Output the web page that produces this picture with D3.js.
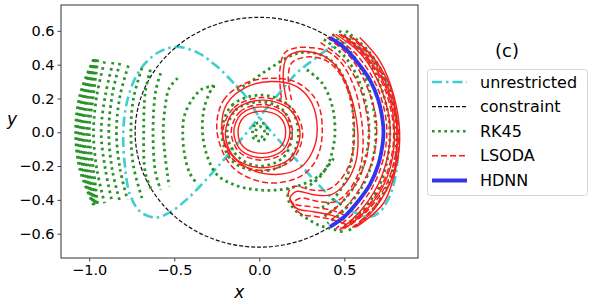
<!DOCTYPE html>
<html>
<head>
<meta charset="utf-8">
<script src="https://cdn.jsdelivr.net/npm/d3@7"></script>
<style>
  body { margin: 0; background: #fff; }
  svg { display: block; font-family: "DejaVu Sans", sans-serif; }
</style>
</head>
<body>
<div id="chart"></div>
<script>
// ticks
const xTicks = [-1.0, -0.5, 0.0, 0.5];
const yTicks = [-0.6, -0.4, -0.2, 0.0, 0.2, 0.4, 0.6];

// legend labels
const legendLabels = ['unrestricted', 'constraint', 'RK45', 'LSODA', 'HDNN'];

// constraint ellipse semi-axes [rx, ry]
const constraintAxes = [0.73, 0.68];

// unrestricted trajectory (closed figure-eight)
const unrestricted = [
  [-0.07, 0.2], [-0.15, 0.29], [-0.25, 0.39], [-0.36, 0.47], [-0.48, 0.505], [-0.58, 0.48],
  [-0.66, 0.42], [-0.73, 0.32], [-0.78, 0.17], [-0.8, 0.0], [-0.79, -0.2], [-0.76, -0.37],
  [-0.7, -0.47], [-0.61, -0.505], [-0.52, -0.47], [-0.43, -0.4], [-0.34, -0.31], [-0.25, -0.21],
  [-0.13, -0.07], [0.0, 0.09], [0.12, 0.235], [0.22, 0.35], [0.32, 0.43], [0.42, 0.5],
  [0.52, 0.53], [0.63, 0.47], [0.73, 0.33], [0.8, 0.13], [0.82, -0.05], [0.8, -0.26],
  [0.77, -0.37], [0.71, -0.47], [0.65, -0.5], [0.55, -0.47], [0.43, -0.39], [0.32, -0.28],
  [0.18, -0.12], [0.1, -0.03], [0.0, 0.09], [-0.07, 0.2]
];

// RK45 trajectory pieces
const rk45 = [
  // dense outer band
  [[-0.975, 0.43], [-1.055, 0.22], [-1.08, 0], [-1.055, -0.22], [-0.975, -0.43]],
  [[-0.97, 0.43], [-1.045, 0.22], [-1.07, 0], [-1.045, -0.22], [-0.97, -0.43]],
  [[-0.97, 0.43], [-1.035, 0.22], [-1.06, 0], [-1.035, -0.22], [-0.97, -0.43]],
  [[-0.965, 0.43], [-1.025, 0.22], [-1.05, 0], [-1.025, -0.22], [-0.965, -0.43]],
  [[-0.965, 0.43], [-1.015, 0.22], [-1.04, 0], [-1.015, -0.22], [-0.965, -0.43]],
  [[-0.96, 0.43], [-1.005, 0.22], [-1.03, 0], [-1.005, -0.22], [-0.96, -0.43]],
  [[-0.955, 0.43], [-0.99, 0.22], [-1.015, 0], [-0.99, -0.22], [-0.955, -0.43]],
  [[-0.95, 0.43], [-0.975, 0.22], [-1.0, 0], [-0.975, -0.22], [-0.95, -0.43]],
  // spreading swings
  [[-0.91, 0.42], [-0.955, 0.22], [-0.975, 0], [-0.955, -0.22], [-0.91, -0.42]],
  [[-0.86, 0.415], [-0.905, 0.22], [-0.93, 0], [-0.905, -0.22], [-0.865, -0.415]],
  [[-0.82, 0.41], [-0.865, 0.22], [-0.885, 0], [-0.865, -0.22], [-0.82, -0.41]],
  [[-0.77, 0.395], [-0.82, 0.21], [-0.84, 0], [-0.82, -0.21], [-0.775, -0.4]],
  [[-0.69, 0.38], [-0.74, 0.2], [-0.755, 0], [-0.74, -0.2], [-0.69, -0.39]],
  [[-0.64, 0.37], [-0.67, 0.24], [-0.68, 0], [-0.67, -0.24], [-0.63, -0.35]],
  [[-0.58, 0.35], [-0.61, 0.24], [-0.625, 0], [-0.61, -0.24], [-0.58, -0.34]],
  [[-0.48, 0.32], [-0.53, 0.26], [-0.555, 0.14], [-0.565, 0], [-0.555, -0.13], [-0.54, -0.25], [-0.53, -0.32]],
  [[-0.26, 0.27], [-0.33, 0.26], [-0.39, 0.2], [-0.44, 0.1], [-0.45, 0], [-0.44, -0.13], [-0.41, -0.24], [-0.37, -0.3]],
  [[-0.27, 0.28], [-0.32, 0.16], [-0.335, 0.02], [-0.31, -0.13], [-0.25, -0.25], [-0.15, -0.31], [-0.02, -0.34],
   [0.12, -0.34], [0.25, -0.31], [0.36, -0.25], [0.44, -0.15]],
  // centre
  [[-0.19, 0], [-0.14, 0.13], [0, 0.18], [0.14, 0.13], [0.19, -0.02], [0.14, -0.15], [0, -0.2], [-0.13, -0.14], [-0.19, 0]],
  [[-0.22, 0], [-0.16, 0.16], [0.01, 0.22], [0.17, 0.16], [0.23, -0.01], [0.17, -0.17], [0.01, -0.23], [-0.16, -0.17], [-0.22, 0]],
  [[-0.04, 0], [-0.02, 0.05], [0.03, 0.05], [0.05, 0], [0.02, -0.05], [-0.03, -0.04], [-0.04, 0]],
  [[-0.02, 0.01], [0, 0.035], [0.03, 0.01], [0.01, -0.03], [-0.02, -0.02], [-0.02, 0.01]],
  // right side
  [[-0.13, 0.25], [-0.05, 0.3], [0.02, 0.35], [0.08, 0.39], [0.16, 0.44], [0.24, 0.47], [0.32, 0.47], [0.4, 0.44],
   [0.47, 0.37], [0.52, 0.26], [0.55, 0.12], [0.555, 0], [0.545, -0.15], [0.5, -0.3], [0.43, -0.4], [0.36, -0.45]],
  [[0.28, 0.37], [0.37, 0.29], [0.43, 0.15], [0.445, 0], [0.43, -0.11], [0.4, -0.2], [0.34, -0.28], [0.27, -0.33]],
  [[0.38, 0.55], [0.5, 0.45], [0.58, 0.32], [0.63, 0.15], [0.645, 0], [0.625, -0.15], [0.57, -0.3], [0.48, -0.42], [0.38, -0.5]],
  [[0.43, 0.58], [0.54, 0.47], [0.62, 0.33], [0.67, 0.15], [0.685, 0], [0.665, -0.17], [0.6, -0.33], [0.5, -0.46], [0.4, -0.54]],
  [[0.47, 0.6], [0.61, 0.47], [0.71, 0.28], [0.765, 0.05], [0.755, -0.15], [0.7, -0.33], [0.59, -0.48], [0.48, -0.57]],
  [[0.51, 0.6], [0.65, 0.47], [0.76, 0.27], [0.805, 0.03], [0.79, -0.2], [0.72, -0.38], [0.61, -0.52], [0.51, -0.59]],
  [[0.17, -0.33], [0.17, -0.4], [0.21, -0.46], [0.28, -0.51], [0.35, -0.55], [0.42, -0.57], [0.49, -0.59]]
];

// LSODA trajectory pieces drawn dashed
const lsodaDashed = [
  [[0.4, 0.56], [0.53, 0.45], [0.62, 0.3], [0.68, 0.12], [0.69, 0], [0.67, -0.15], [0.61, -0.3], [0.52, -0.43], [0.42, -0.52]],
  [[0.36, 0.53], [0.49, 0.43], [0.58, 0.29], [0.63, 0.12], [0.645, 0], [0.63, -0.15], [0.57, -0.3], [0.48, -0.42], [0.38, -0.5]],
  [[0.43, 0.58], [0.58, 0.45], [0.7, 0.25], [0.75, 0], [0.7, -0.25], [0.58, -0.45], [0.45, -0.57]],
  [[0.47, 0.58], [0.62, 0.45], [0.74, 0.25], [0.79, -0.02], [0.74, -0.27], [0.62, -0.46], [0.49, -0.57]],
  [[0.5, 0.57], [0.65, 0.44], [0.76, 0.24], [0.81, -0.02], [0.76, -0.28], [0.64, -0.46], [0.52, -0.56]],
  [[0.53, 0.57], [0.67, 0.43], [0.77, 0.23], [0.82, -0.03], [0.78, -0.27], [0.67, -0.45], [0.54, -0.57]],
  [[0.19, 0.19], [0.17, 0.32], [0.19, 0.41], [0.25, 0.44], [0.32, 0.445], [0.4, 0.42], [0.47, 0.35], [0.53, 0.22],
   [0.555, 0.08], [0.555, -0.08], [0.53, -0.19], [0.47, -0.29], [0.4, -0.34], [0.3, -0.34], [0.21, -0.32],
   [0.17, -0.36], [0.2, -0.42], [0.3, -0.44], [0.42, -0.46], [0.5, -0.49]],
  [[0.13, 0.2], [0.12, 0.36], [0.15, 0.47], [0.22, 0.5], [0.31, 0.5], [0.4, 0.48], [0.49, 0.4], [0.56, 0.26],
   [0.6, 0.08], [0.61, -0.08], [0.59, -0.22], [0.53, -0.34], [0.45, -0.41], [0.35, -0.41], [0.24, -0.39],
   [0.2, -0.42], [0.24, -0.48], [0.34, -0.5], [0.44, -0.52], [0.52, -0.55]],
  [[-0.25, 0.02], [-0.21, 0.19], [-0.08, 0.29], [0.07, 0.32], [0.23, 0.29], [0.34, 0.18], [0.37, 0], [0.34, -0.15],
   [0.26, -0.25], [0.1, -0.3], [-0.06, -0.27], [-0.18, -0.18], [-0.25, 0.02]],
  [[-0.165, 0], [-0.115, 0.12], [0.015, 0.165], [0.145, 0.12], [0.195, 0], [0.145, -0.12], [0.015, -0.165], [-0.115, -0.12], [-0.165, 0]],
  [[-0.215, -0.01], [-0.15, 0.145], [0.02, 0.205], [0.19, 0.145], [0.255, -0.01], [0.19, -0.165], [0.02, -0.225], [-0.15, -0.165], [-0.215, -0.01]]
];

// LSODA trajectory pieces drawn solid
const lsodaSolid = [
  [[0.45, 0.58], [0.6, 0.46], [0.72, 0.25], [0.77, 0], [0.72, -0.26], [0.6, -0.46], [0.47, -0.58]],
  [[0.48, 0.58], [0.63, 0.45], [0.75, 0.25], [0.795, -0.01], [0.75, -0.27], [0.63, -0.46], [0.5, -0.57]],
  [[0.55, 0.56], [0.68, 0.43], [0.78, 0.24], [0.81, -0.02], [0.79, -0.24], [0.68, -0.45], [0.56, -0.56]],
  [[0.59, 0.56], [0.71, 0.42], [0.79, 0.22], [0.825, 0], [0.81, -0.18], [0.73, -0.42], [0.57, -0.56]],
  [[0.16, 0.19], [0.14, 0.33], [0.16, 0.44], [0.22, 0.475], [0.3, 0.475], [0.38, 0.45], [0.46, 0.38], [0.53, 0.24],
   [0.57, 0.08], [0.58, -0.08], [0.56, -0.2], [0.5, -0.31], [0.42, -0.37], [0.32, -0.37], [0.22, -0.35],
   [0.18, -0.39], [0.22, -0.45], [0.32, -0.47], [0.42, -0.49], [0.5, -0.52]],
  [[-0.22, 0.02], [-0.19, 0.17], [-0.07, 0.27], [0.07, 0.3], [0.22, 0.27], [0.31, 0.17], [0.34, 0], [0.31, -0.12],
   [0.24, -0.21], [0.1, -0.25], [-0.07, -0.21], [-0.18, -0.11], [-0.22, 0.02]],
  [[-0.125, 0], [-0.09, 0.09], [0.015, 0.125], [0.12, 0.09], [0.155, 0], [0.12, -0.09], [0.015, -0.125], [-0.09, -0.09], [-0.125, 0]],
  [[-0.15, 0], [-0.105, 0.11], [0.015, 0.15], [0.135, 0.11], [0.18, 0], [0.135, -0.11], [0.015, -0.15], [-0.105, -0.11], [-0.15, 0]],
  [[-0.2, -0.01], [-0.14, 0.135], [0.02, 0.19], [0.18, 0.135], [0.24, -0.01], [0.18, -0.155], [0.02, -0.21], [-0.14, -0.155], [-0.2, -0.01]]
];

// HDNN trajectory, stays on the constraint
const hdnn = [
  [0.415, 0.56], [0.5, 0.5], [0.58, 0.41], [0.65, 0.31], [0.7, 0.19], [0.725, 0.07], [0.73, 0],
  [0.725, -0.07], [0.7, -0.19], [0.65, -0.31], [0.58, -0.41], [0.5, -0.5], [0.415, -0.56]
];

const width = 594;
const height = 308;
const margin = { top: 5, right: 176, bottom: 50, left: 61 };

const svg = d3.select('#chart').append('svg')
  .attr('width', width)
  .attr('height', height);

const x = d3.scaleLinear()
  .domain([-1.166, 0.933])
  .range([margin.left, width - margin.right]);

const y = d3.scaleLinear()
  .domain([-0.744, 0.753])
  .range([height - margin.bottom, margin.top]);

svg.append('clipPath').attr('id', 'plot-clip')
  .append('rect')
  .attr('x', margin.left).attr('y', margin.top)
  .attr('width', x.range()[1] - x.range()[0])
  .attr('height', y.range()[0] - y.range()[1]);

const plot = svg.append('g').attr('clip-path', 'url(#plot-clip)');

const isClosed = p => p.length > 3 && p[0][0] === p[p.length - 1][0] && p[0][1] === p[p.length - 1][1];
const openLine = d3.line().x(d => x(d[0])).y(d => y(d[1])).curve(d3.curveCatmullRom.alpha(0.5));
const closedLine = d3.line().x(d => x(d[0])).y(d => y(d[1])).curve(d3.curveCatmullRomClosed.alpha(0.5));
const pathOf = p => isClosed(p) ? closedLine(p.slice(0, -1)) : openLine(p);

const styles = {
  unrestricted: { stroke: '#3fcfcf', width: 2.6, dash: '10,4,2.5,4' },
  constraint: { stroke: '#111', width: 1.2, dash: '4,2' },
  rk45: { stroke: '#2a922a', width: 2.8, dash: '2.6,3.6' },
  lsodaDash: { stroke: '#ff1a1a', width: 1.5, dash: '6,3' },
  lsodaSolid: { stroke: '#ff1a1a', width: 1.4, dash: null },
  hdnn: { stroke: '#3434ec', width: 3.8, dash: null }
};

const drawPaths = (list, s, cls) => {
  plot.selectAll(`path.${cls}`)
    .data(list)
    .enter()
    .append('path')
    .attr('class', cls)
    .attr('d', pathOf)
    .attr('fill', 'none')
    .attr('stroke', s.stroke)
    .attr('stroke-width', s.width)
    .attr('stroke-dasharray', s.dash);
};

drawPaths([unrestricted], styles.unrestricted, 'unrestricted');

plot.append('ellipse')
  .attr('cx', x(0)).attr('cy', y(0))
  .attr('rx', x(constraintAxes[0]) - x(0))
  .attr('ry', y(0) - y(constraintAxes[1]))
  .attr('fill', 'none')
  .attr('stroke', styles.constraint.stroke)
  .attr('stroke-width', styles.constraint.width)
  .attr('stroke-dasharray', styles.constraint.dash);

drawPaths(rk45, styles.rk45, 'rk45');
drawPaths(lsodaDashed, styles.lsodaDash, 'lsoda-dash');
drawPaths(lsodaSolid, styles.lsodaSolid, 'lsoda-solid');
drawPaths([hdnn], styles.hdnn, 'hdnn');

// frame
svg.append('rect')
  .attr('x', margin.left).attr('y', margin.top)
  .attr('width', x.range()[1] - x.range()[0])
  .attr('height', y.range()[0] - y.range()[1])
  .attr('fill', 'none')
  .attr('stroke', '#444')
  .attr('stroke-width', 1.1);

const fmt = d3.format('.1f');

const axisX = svg.append('g')
  .attr('transform', `translate(0, ${height - margin.bottom})`)
  .call(d3.axisBottom(x).tickValues(xTicks).tickFormat(fmt).tickSize(3.5).tickPadding(3));
const axisY = svg.append('g')
  .attr('transform', `translate(${margin.left}, 0)`)
  .call(d3.axisLeft(y).tickValues(yTicks).tickFormat(fmt).tickSize(3.5).tickPadding(3));

[axisX, axisY].forEach(g => {
  g.select('.domain').remove();
  g.selectAll('.tick line').attr('stroke', '#444').attr('stroke-width', 1);
  g.selectAll('.tick text')
    .attr('fill', '#000')
    .style('font-family', '"DejaVu Sans", sans-serif')
    .style('font-size', '14.5px');
});

svg.append('text')
  .attr('x', x(0) - 20).attr('y', 298)
  .attr('text-anchor', 'middle')
  .style('font-size', '17px')
  .style('font-style', 'italic')
  .text('x');

svg.append('text')
  .attr('x', 12).attr('y', 125)
  .attr('text-anchor', 'middle')
  .style('font-size', '17px')
  .style('font-style', 'italic')
  .text('y');

// legend
svg.append('text')
  .attr('x', 507).attr('y', 57)
  .attr('text-anchor', 'middle')
  .style('font-size', '18px')
  .text('(c)');

const legend = svg.append('g');
legend.append('rect')
  .attr('x', 427.5).attr('y', 69.5)
  .attr('width', 160).attr('height', 126)
  .attr('rx', 3)
  .attr('fill', '#fff')
  .attr('stroke', '#d6d6d6');

const legendStyles = [styles.unrestricted, styles.constraint, styles.rk45, styles.lsodaDash, styles.hdnn];
const legendWidths = [2.6, 1.2, 2.6, 1.5, 4];

legendLabels.forEach((label, i) => {
  const ly = 82 + i * 24.6;
  const s = legendStyles[i];
  legend.append('line')
    .attr('x1', 432).attr('x2', 467)
    .attr('y1', ly).attr('y2', ly)
    .attr('stroke', s.stroke)
    .attr('stroke-width', legendWidths[i])
    .attr('stroke-dasharray', s.dash);
  legend.append('text')
    .attr('x', 480).attr('y', ly + 5.5)
    .style('font-size', '16px')
    .text(label);
});
</script>
</body>
</html>
